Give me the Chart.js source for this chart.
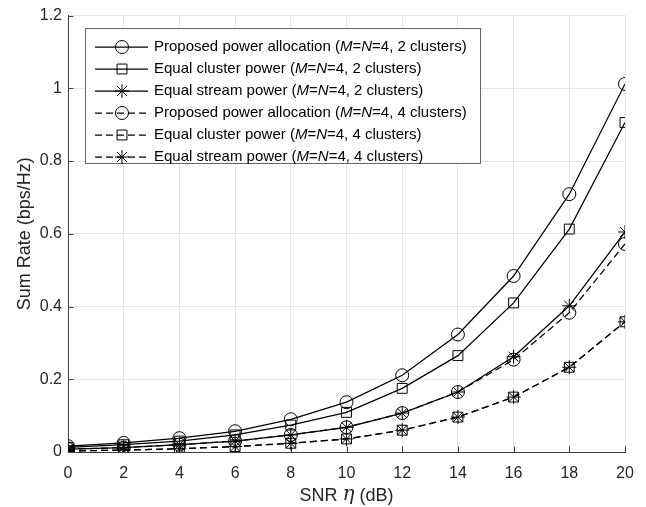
<!DOCTYPE html>
<html>
<head>
<meta charset="utf-8">
<script src="https://cdn.jsdelivr.net/npm/chart.js@4.4.1/dist/chart.umd.min.js"></script>
<style>
  html,body{margin:0;padding:0;background:#fff;}
  #wrap{width:646px;height:507px;position:relative;}
</style>
</head>
<body>
<div id="wrap"><canvas id="c" width="646" height="507"></canvas></div>
<script>
// ---- data ----
const snr = [0, 2, 4, 6, 8, 10, 12, 14, 16, 18, 20];
const propTwo   = [0.016, 0.025, 0.038, 0.057, 0.090, 0.137, 0.211, 0.323, 0.484, 0.709, 1.012];
const eqClusTwo = [0.013, 0.020, 0.030, 0.047, 0.074, 0.109, 0.175, 0.265, 0.410, 0.613, 0.906];
const eqStrTwo  = [0.008, 0.012, 0.020, 0.030, 0.047, 0.068, 0.107, 0.165, 0.262, 0.402, 0.605];
const propFour  = [0.008, 0.012, 0.020, 0.030, 0.047, 0.068, 0.107, 0.165, 0.254, 0.383, 0.572];
const eqClusFour= [0.003, 0.005, 0.009, 0.015, 0.024, 0.036, 0.060, 0.096, 0.151, 0.233, 0.358];
const eqStrFour = [0.003, 0.005, 0.009, 0.015, 0.024, 0.036, 0.060, 0.096, 0.151, 0.233, 0.358];
const yTicks = [0, 0.2, 0.4, 0.6, 0.8, 1, 1.2];
const xTicks = [0, 2, 4, 6, 8, 10, 12, 14, 16, 18, 20];
const legendLabels = [
  ["Proposed power allocation (", "M", "=", "N", "=4, 2 clusters)"],
  ["Equal cluster power (", "M", "=", "N", "=4, 2 clusters)"],
  ["Equal stream power (", "M", "=", "N", "=4, 2 clusters)"],
  ["Proposed power allocation (", "M", "=", "N", "=4, 4 clusters)"],
  ["Equal cluster power (", "M", "=", "N", "=4, 4 clusters)"],
  ["Equal stream power (", "M", "=", "N", "=4, 4 clusters)"]
];
const seriesValues = [propTwo, eqClusTwo, eqStrTwo, propFour, eqClusFour, eqStrFour];
const styles = ['circle', 'rect', 'star', 'circle', 'rect', 'star'];
const dashed = [false, false, false, true, true, true];

const FONT = "'Liberation Sans', Arial, Helvetica, sans-serif";
const DASH = [7, 4];
const LW = 1.25;

function markerRadius(s){ return s === 'circle' ? 6.5 : 7; }

const datasets = seriesValues.map((vals, i) => ({
  label: legendLabels[i].join(''),
  data: snr.map((x, k) => ({x: x, y: vals[k]})),
  borderColor: '#000',
  borderWidth: LW,
  borderDash: dashed[i] ? DASH : [],
  pointStyle: styles[i],
  pointRadius: markerRadius(styles[i]),
  pointBorderColor: '#000',
  pointBackgroundColor: 'rgba(0,0,0,0)',
  pointBorderWidth: 1,
  fill: false,
  tension: 0
}));

function drawMarker(ctx, style, x, y, r){
  ctx.save();
  ctx.setLineDash([]);
  ctx.lineWidth = 1;
  ctx.strokeStyle = '#000';
  ctx.beginPath();
  if (style === 'circle') {
    ctx.arc(x, y, r, 0, Math.PI * 2);
  } else if (style === 'rect') {
    const s = Math.SQRT1_2 * r;
    ctx.rect(x - s, y - s, 2 * s, 2 * s);
  } else {
    ctx.moveTo(x, y - r); ctx.lineTo(x, y + r);
    ctx.moveTo(x - r, y); ctx.lineTo(x + r, y);
    const d = r * Math.SQRT1_2;
    ctx.moveTo(x - d, y - d); ctx.lineTo(x + d, y + d);
    ctx.moveTo(x - d, y + d); ctx.lineTo(x + d, y - d);
  }
  ctx.stroke();
  ctx.restore();
}

const decorPlugin = {
  id: 'decor',
  beforeDatasetsDraw(chart){
    const ctx = chart.ctx;
    const xs = chart.scales.x, ys = chart.scales.y;
    const a = chart.chartArea;
    ctx.save();
    ctx.strokeStyle = '#404040';
    ctx.lineWidth = 1;
    ctx.beginPath();
    xTicks.forEach(v => {
      const px = Math.round(xs.getPixelForValue(v)) + 0.5;
      ctx.moveTo(px, a.bottom); ctx.lineTo(px, a.bottom - 5.5);
    });
    yTicks.forEach(v => {
      const py = Math.round(ys.getPixelForValue(v)) + 0.5;
      ctx.moveTo(a.left, py); ctx.lineTo(a.left + 5.5, py);
    });
    ctx.stroke();
    ctx.restore();
  },
  afterDraw(chart){
    const ctx = chart.ctx;
    const a = chart.chartArea;
    // x-axis title with italic eta
    ctx.save();
    ctx.fillStyle = '#262626';
    ctx.textBaseline = 'middle';
    const f1 = "18px " + FONT;
    const f2 = "italic 20px 'DejaVu Serif', 'Liberation Serif', serif";
    const parts = [["SNR ", f1], ["\u03B7", f2], [" (dB)", f1]];
    let w = 0;
    parts.forEach(p => { ctx.font = p[1]; w += ctx.measureText(p[0]).width; });
    let x = (a.left + a.right) / 2 - w / 2;
    const y = 496;
    parts.forEach(p => { ctx.font = p[1]; ctx.fillText(p[0], x, p[1] === f2 ? y - 1 : y); x += ctx.measureText(p[0]).width; });
    ctx.restore();

    // legend
    const bx = 85.5, by = 28.5, bw = 395, bh = 135;
    ctx.save();
    ctx.fillStyle = '#fff';
    ctx.fillRect(bx, by, bw, bh);
    ctx.strokeStyle = '#666';
    ctx.lineWidth = 1;
    ctx.strokeRect(bx, by, bw, bh);
    const rowY0 = 47, rowStep = 22;
    legendLabels.forEach((lab, i) => {
      const ry = rowY0 + i * rowStep;
      ctx.save();
      ctx.strokeStyle = '#000';
      ctx.lineWidth = LW;
      ctx.setLineDash(dashed[i] ? DASH : []);
      ctx.beginPath();
      ctx.moveTo(95, ry); ctx.lineTo(148, ry);
      ctx.stroke();
      ctx.restore();
      drawMarker(ctx, styles[i], 122, ry, markerRadius(styles[i]));
      let tx = 154;
      ctx.fillStyle = '#000';
      ctx.textBaseline = 'middle';
      lab.forEach((seg, k) => {
        ctx.font = (k === 1 || k === 3 ? 'italic ' : '') + "15px " + FONT;
        ctx.fillText(seg, tx, ry);
        tx += ctx.measureText(seg).width;
      });
    });
    ctx.restore();
  }
};

new Chart(document.getElementById('c'), {
  type: 'line',
  data: { datasets: datasets },
  plugins: [decorPlugin],
  options: {
    responsive: false,
    animation: false,
    devicePixelRatio: 1,
    layout: { padding: { left: 0, right: 21, top: 14, bottom: 0 } },
    plugins: { legend: { display: false }, tooltip: { enabled: false } },
    scales: {
      x: {
        type: 'linear', min: 0, max: 20,
        afterBuildTicks: s => { s.ticks = xTicks.map(v => ({value: v})); },
        afterFit: s => { s.height = 55; },
        ticks: { color: '#262626', font: { family: FONT, size: 16 }, padding: 12, maxRotation: 0, autoSkip: false,
                 callback: v => String(v) },
        grid: { color: '#e6e6e6', drawTicks: false, lineWidth: 1 },
        border: { color: '#404040', width: 1 }
      },
      y: {
        type: 'linear', min: 0, max: 1.2,
        afterBuildTicks: s => { s.ticks = yTicks.map(v => ({value: v})); },
        afterFit: s => { s.width = 68; },
        ticks: { color: '#262626', font: { family: FONT, size: 16 }, padding: 6, autoSkip: false,
                 callback: v => String(+v.toFixed(1)) },
        grid: { color: '#e6e6e6', drawTicks: false, lineWidth: 1 },
        border: { color: '#404040', width: 1 },
        title: { display: true, text: 'Sum Rate (bps/Hz)', color: '#262626',
                 font: { family: FONT, size: 18 }, padding: { top: 14, bottom: 0 } }
      }
    }
  }
});
</script>
</body>
</html>
